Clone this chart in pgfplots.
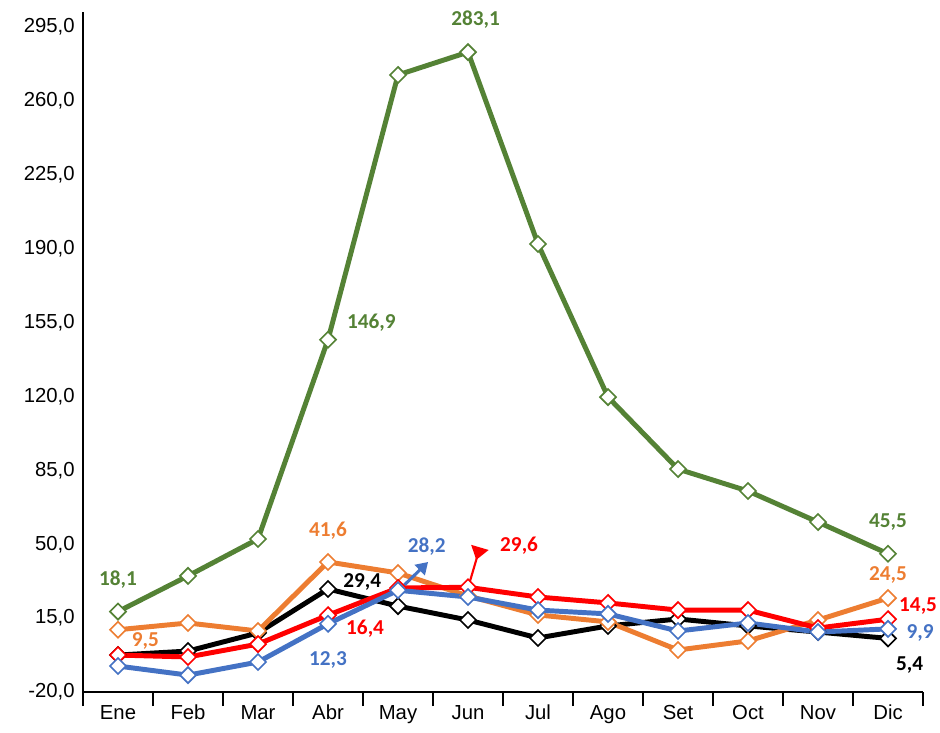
\documentclass[border=0pt]{standalone}
\usepackage{pgfplots}
\pgfplotsset{compat=1.18}
\usepackage{fontspec}
\setmainfont{Liberation Sans}
\newfontfamily\lblfont{Carlito}
\usetikzlibrary{arrows.meta}
\begin{document}
\begin{tikzpicture}
\definecolor{cgreen}{RGB}{84,130,53}
\definecolor{corange}{RGB}{237,125,49}
\definecolor{cblue}{RGB}{68,114,196}
\definecolor{cred}{RGB}{255,0,0}
\path[use as bounding box] (-35.17pt,-16.95pt) rectangle (363.1pt,293.2pt);
\begin{axis}[
  at={(0pt,0pt)}, anchor=south west,
  scale only axis,
  width=355.9pt, height=288.1pt,
  xmin=-0.5, xmax=11.5,
  ymin=-20, ymax=302.1,
  axis x line=bottom, axis y line=left,
  axis line style={-, black, line width=0.8pt},
  xtick={0,...,11},
  xticklabels={Ene,Feb,Mar,Abr,May,Jun,Jul,Ago,Set,Oct,Nov,Dic},
  minor xtick={-0.5,0.5,...,11.5},
  major tick length=0pt,
  minor tick length=6pt,
  tick align=outside,
  minor tick style={black, line width=0.6pt},
  ytick={-20,15,...,295},
  tick label style={font=\fontsize{8.6}{10}\selectfont},
  yticklabel style={/pgf/number format/.cd, fixed, fixed zerofill, precision=1, use comma, assume math mode=true},
  x tick label style={yshift=-2pt},
  clip=false,
  every axis plot/.append style={line width=2.1pt, mark=square*, mark size=2.4pt,
    mark options={rotate=45, fill=white, line width=0.7pt}},
]
% black
\addplot[black] coordinates {(0,-2.5) (1,-0.6) (2,8) (3,28.8) (4,20.7) (5,14.1) (6,5.6) (7,11.3) (8,14.6) (9,11.3) (10,8.4) (11,5.4)};
% orange
\addplot[corange] coordinates {(0,9.5) (1,12.7) (2,8.9) (3,41.6) (4,36.4) (5,25.5) (6,16.5) (7,13.2) (8,-0.1) (9,4.2) (10,14.1) (11,24.5)};
% red
\addplot[cred] coordinates {(0,-2.5) (1,-3.4) (2,2.7) (3,16.4) (4,29.3) (5,29.6) (6,25.0) (7,22.2) (8,18.8) (9,18.8) (10,10.3) (11,14.5)};
% blue
\addplot[cblue] coordinates {(0,-7.7) (1,-12.0) (2,-5.8) (3,12.3) (4,28.2) (5,25.0) (6,18.8) (7,17.0) (8,8.9) (9,12.7) (10,8.4) (11,9.9)};
% green
\addplot[cgreen] coordinates {(0,18.1) (1,35.0) (2,52.5) (3,146.9) (4,272.3) (5,283.1) (6,192.2) (7,119.7) (8,85.6) (9,75.2) (10,60.5) (11,45.5)};

\draw[cblue, line width=1.3pt, -{Triangle[width=6pt,length=5pt]}] (axis cs:4,27.8) -- (axis cs:4.43,41.6);
\draw[cred, line width=0.9pt, -{Triangle[reversed,width=7.5pt,length=5.5pt]}] (axis cs:5,29.3) -- (axis cs:5.17,48.5);

\begin{scope}[every node/.style={font=\lblfont\bfseries\fontsize{9}{10}\selectfont}]
\node[text=cgreen] at (axis cs:0,33.1) {18,1};
\node[text=cgreen] at (axis cs:5.11,298.3) {283,1};
\node[text=cgreen] at (axis cs:3.62,154.8) {146,9};
\node[text=cgreen] at (axis cs:11.0,60.5) {45,5};
\node[text=corange] at (axis cs:3.0,56.3) {41,6};
\node[text=corange] at (axis cs:0.39,4.2) {9,5};
\node[text=corange] at (axis cs:11.0,35.4) {24,5};
\node[text=black] at (axis cs:3.49,32.1) {29,4};
\node[text=black] at (axis cs:11.31,-7.2) {5,4};
\node[text=cred] at (axis cs:3.53,9.8) {16,4};
\node[text=cred] at (axis cs:5.73,49.2) {29,6};
\node[text=cred] at (axis cs:11.43,20.7) {14,5};
\node[text=cblue] at (axis cs:3.0,-4.8) {12,3};
\node[text=cblue] at (axis cs:4.41,48.7) {28,2};
\node[text=cblue] at (axis cs:11.46,7.9) {9,9};
\end{scope}
\end{axis}
\end{tikzpicture}
\end{document}
